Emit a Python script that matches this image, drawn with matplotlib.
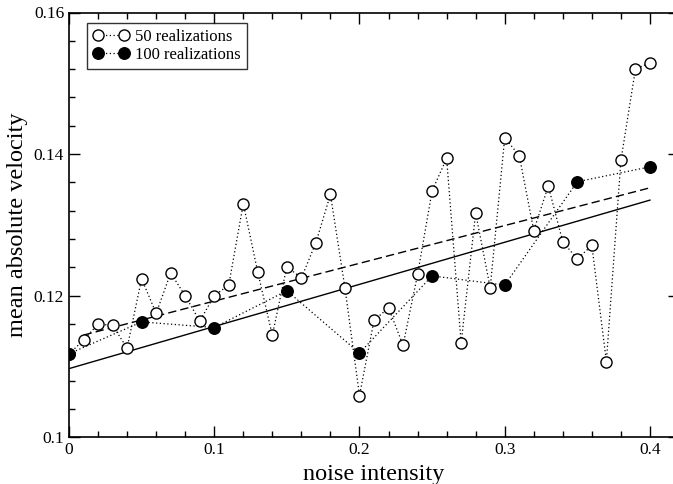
import matplotlib
matplotlib.use("Agg")
import matplotlib.pyplot as plt
import numpy as np
from matplotlib.ticker import MultipleLocator

plt.rcParams['font.family'] = ['Liberation Serif', 'DejaVu Serif']

# 50 realizations (open circles)
x50 = [0.00, 0.01, 0.02, 0.03, 0.04, 0.05, 0.06, 0.07, 0.08, 0.09,
       0.10, 0.11, 0.12, 0.13, 0.14, 0.15, 0.16, 0.17, 0.18, 0.19,
       0.20, 0.21, 0.22, 0.23, 0.24, 0.25, 0.26, 0.27, 0.28, 0.29,
       0.30, 0.31, 0.32, 0.33, 0.34, 0.35, 0.36, 0.37, 0.38, 0.39, 0.40]
y50 = [0.1118, 0.1137, 0.1160, 0.1158, 0.1126, 0.1224, 0.1175, 0.1232, 0.1200, 0.1164,
       0.1200, 0.1215, 0.1330, 0.1233, 0.1144, 0.1241, 0.1225, 0.1275, 0.1343, 0.1211,
       0.1059, 0.1165, 0.1183, 0.1130, 0.1230, 0.1348, 0.1394, 0.1133, 0.1317, 0.1211,
       0.1423, 0.1398, 0.1292, 0.1355, 0.1276, 0.1252, 0.1271, 0.1107, 0.1391, 0.1520, 0.1529]

# 100 realizations (filled circles)
x100 = [0.00, 0.05, 0.10, 0.15, 0.20, 0.25, 0.30, 0.35, 0.40]
y100 = [0.1118, 0.1163, 0.1155, 0.1207, 0.1119, 0.1228, 0.1215, 0.1361, 0.1382]

# linear fits (end points)
fit50_x = [0.01, 0.40]
fit50_y = [0.11444, 0.13524]
fit100_x = [0.00, 0.40]
fit100_y = [0.1097, 0.1335]

xticks = [0, 0.1, 0.2, 0.3, 0.4]
xticklabels = ['0', '0.1', '0.2', '0.3', '0.4']
yticks = [0.10, 0.12, 0.14, 0.16]
yticklabels = ['0.1', '0.12', '0.14', '0.16']

fig = plt.figure(figsize=(6.73, 4.84), dpi=100)
ax = fig.add_axes([69/673, (484-437.3)/484, (679-69)/673, (437.3-12.5)/484])

dot = (0, (1, 2))
ax.plot(x50, y50, linestyle=dot, color='black', lw=0.9, marker='o', ms=8,
        mfc='white', mec='black', mew=1.0, label='50 realizations', zorder=3)
ax.plot(x100, y100, linestyle=dot, color='black', lw=0.9, marker='o', ms=8.3,
        mfc='black', mec='black', mew=1.0, label='100 realizations', zorder=4)
ax.plot(fit50_x, fit50_y, color='black', lw=1.0, linestyle=(0, (6, 3)), zorder=2)
ax.plot(fit100_x, fit100_y, color='black', lw=1.0, linestyle='-', zorder=2)

ax.set_xlim(0, 0.42)
ax.set_ylim(0.10, 0.16)
ax.set_xticks(xticks)
ax.set_xticklabels(xticklabels)
ax.set_yticks(yticks)
ax.set_yticklabels(yticklabels)
ax.xaxis.set_minor_locator(MultipleLocator(0.02))
ax.yaxis.set_minor_locator(MultipleLocator(0.004))
ax.tick_params(which='both', direction='in', top=True, right=True, labelsize=12.5, width=1.0)
ax.tick_params(which='major', length=8)
ax.tick_params(which='minor', length=4)
for s in ax.spines.values():
    s.set_linewidth(1.2)

ax.set_xlabel('noise intensity', fontsize=17.5, labelpad=4)
ax.set_ylabel('mean absolute velocity', fontsize=17.5, labelpad=4)

leg = ax.legend(loc='upper left', bbox_to_anchor=(18/610, 1 - 10.5/424.8), numpoints=2,
                fontsize=12, frameon=True, fancybox=False, borderaxespad=0.0,
                handlelength=2.16, handletextpad=0.36, labelspacing=0.1, borderpad=0.36)
leg.get_frame().set_edgecolor('black')
leg.get_frame().set_linewidth(1.0)

fig.savefig('out.png', dpi=100)
